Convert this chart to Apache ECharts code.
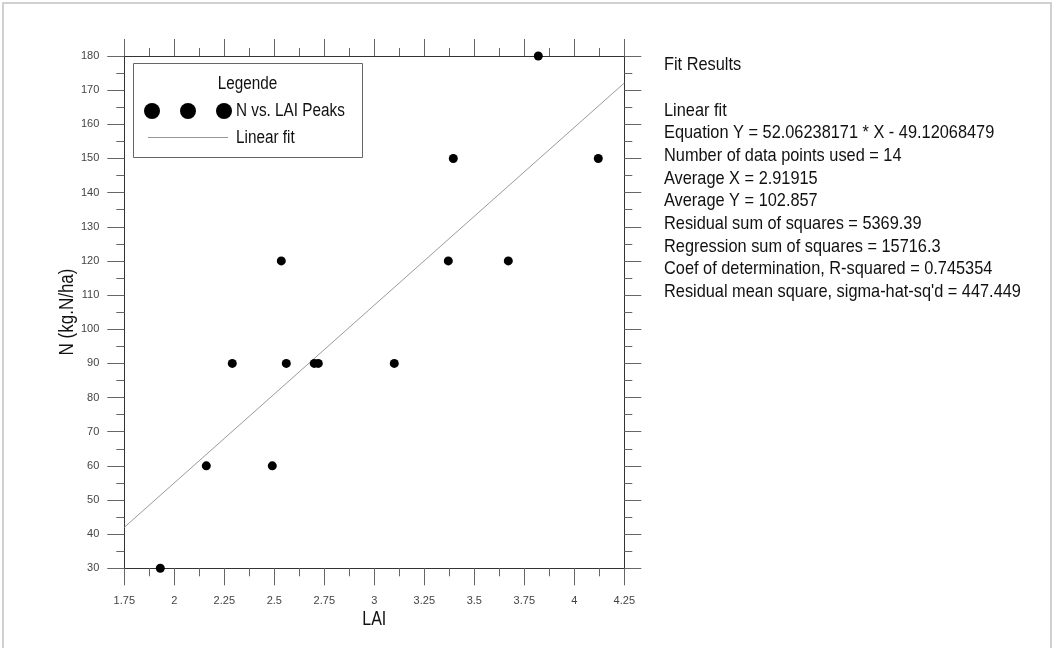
<!DOCTYPE html>
<html>
<head>
<meta charset="utf-8">
<script src="https://cdn.jsdelivr.net/npm/echarts@6/dist/echarts.min.js"></script>
<style>
  html, body { margin: 0; padding: 0; background: #fff; }
  #chart { width: 1057px; height: 648px; }
</style>
</head>
<body>
<div id="chart"></div>
<script>
// ---- data ----
const laiValues = [1.93, 2.16, 2.49, 2.29, 2.56, 2.70, 2.72, 3.10, 2.535, 3.37, 3.67, 3.395, 4.12, 3.82];
const nValues   = [30,   60,   60,   90,   90,   90,   90,   90,   120,   120,  120,  150,   150,  180];
const fitLineX  = [1.75, 4.25];
const fitLineY  = [42.0, 172.1];
const seriesNames = ['N vs. LAI Peaks', 'Linear fit'];
const legendTitle = 'Legende';
const xAxisName = 'LAI';
const yAxisName = 'N (kg.N/ha)';
const fitResultLines = [
  'Fit Results',
  '',
  'Linear fit',
  'Equation Y = 52.06238171 * X - 49.12068479',
  'Number of data points used = 14',
  'Average X = 2.91915',
  'Average Y = 102.857',
  'Residual sum of squares = 5369.39',
  'Regression sum of squares = 15716.3',
  'Coef of determination, R-squared = 0.745354',
  "Residual mean square, sigma-hat-sq'd = 447.449"
];

const SANS = '"Liberation Sans", Arial, sans-serif';

const scatterData = laiValues.map((x, i) => [x, nValues[i]]);
const fitData = fitLineX.map((x, i) => [x, fitLineY[i]]);

const chart = echarts.init(document.getElementById('chart'), null, { renderer: 'canvas' });

const axisLineStyle = { color: '#333', width: 1 };
const tickStyle = { color: '#666', width: 1 };

function xAxisCfg(pos, showLabel) {
  return {
    type: 'value', position: pos, min: 1.75, max: 4.25, interval: 0.25,
    axisLine: { show: true, onZero: false, lineStyle: axisLineStyle },
    axisTick: { show: true, inside: false, length: 17, lineStyle: tickStyle },
    minorTick: { show: true, splitNumber: 2, length: 8, lineStyle: tickStyle },
    splitLine: { show: false },
    axisLabel: { show: showLabel, margin: 27, color: '#444', fontFamily: SANS, fontSize: 11 },
  };
}
function yAxisCfg(pos, showLabel) {
  return {
    type: 'value', position: pos, min: 30, max: 180, interval: 10,
    axisLine: { show: true, onZero: false, lineStyle: axisLineStyle },
    axisTick: { show: true, inside: false, length: 17, lineStyle: tickStyle },
    minorTick: { show: true, splitNumber: 2, length: 8, lineStyle: tickStyle },
    splitLine: { show: false },
    axisLabel: { show: showLabel, margin: 25, color: '#444', fontFamily: SANS, fontSize: 11 },
  };
}

// condensed-looking text: regular sans squeezed horizontally
function narrowText(text, x, y, size, sx, opts) {
  opts = opts || {};
  return {
    type: 'text', z: 10, silent: true, x: x, y: y, scaleX: sx, rotation: opts.rotation || 0,
    style: {
      text: text, font: size + 'px ' + SANS, fill: '#111',
      align: opts.align || 'left', verticalAlign: opts.verticalAlign || 'middle',
      lineHeight: opts.lineHeight
    }
  };
}

const legendGraphics = [
  { type: 'rect', z: 8, silent: true, shape: { x: 133.5, y: 63.5, width: 229, height: 94 },
    style: { fill: '#fff', stroke: '#666', lineWidth: 1 } },
  narrowText(legendTitle, 247.5, 84, 18, 0.85, { align: 'center' }),
  { type: 'circle', z: 9, silent: true, shape: { cx: 152, cy: 111, r: 8 }, style: { fill: '#000' } },
  { type: 'circle', z: 9, silent: true, shape: { cx: 188, cy: 111, r: 8 }, style: { fill: '#000' } },
  { type: 'circle', z: 9, silent: true, shape: { cx: 224, cy: 111, r: 8 }, style: { fill: '#000' } },
  narrowText(seriesNames[0], 236, 111, 18, 0.85),
  { type: 'line', z: 9, silent: true, shape: { x1: 148, y1: 137.5, x2: 228, y2: 137.5 },
    style: { stroke: '#999', lineWidth: 1 } },
  narrowText(seriesNames[1], 236, 137.7, 18, 0.85)
];

chart.setOption({
  animation: false,
  backgroundColor: '#fff',
  grid: { left: 124.3, right: 432.7, top: 56, bottom: 79.7, containLabel: false },
  xAxis: [xAxisCfg('bottom', true), xAxisCfg('top', false)],
  yAxis: [yAxisCfg('left', true), yAxisCfg('right', false)],
  graphic: [
    { type: 'rect', z: -1, silent: true, shape: { x: 3, y: 3, width: 1048, height: 700 },
      style: { fill: 'none', stroke: '#d0d0d0', lineWidth: 2 } },
    ...legendGraphics,
    narrowText(fitResultLines.join('\n'), 664, 53.6, 19, 0.86, { verticalAlign: 'top', lineHeight: 22.7 }),
    narrowText(xAxisName, 374.3, 619, 20, 0.8, { align: 'center' }),
    narrowText(yAxisName, 67, 312, 20, 0.85, { align: 'center', rotation: Math.PI / 2 })
  ],
  series: [
    { name: seriesNames[0], type: 'scatter', data: scatterData, symbol: 'circle', symbolSize: 9,
      itemStyle: { color: '#000', opacity: 1 }, xAxisIndex: 0, yAxisIndex: 0, z: 4 },
    { name: seriesNames[1], type: 'line', data: fitData, symbol: 'none', showSymbol: false,
      lineStyle: { color: '#999', width: 1 }, itemStyle: { color: '#999' }, xAxisIndex: 0, yAxisIndex: 0, z: 3 }
  ]
});
</script>
</body>
</html>
